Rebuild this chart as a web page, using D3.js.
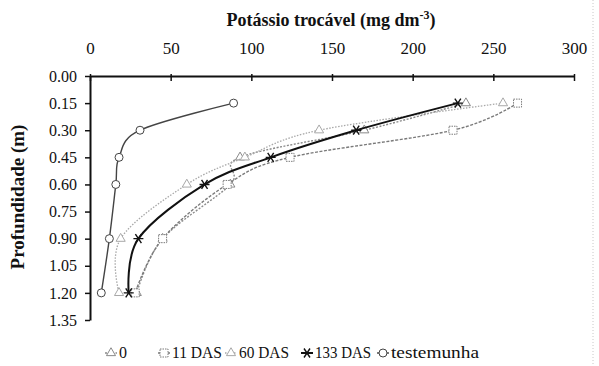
<!DOCTYPE html>
<html>
<head>
<meta charset="utf-8">
<script src="https://cdn.jsdelivr.net/npm/d3@7"></script>
<style>
  html, body { margin: 0; padding: 0; background: #fff; }
  svg, svg text, svg tspan { font-family: 'Times New Roman', 'Liberation Serif', serif !important; }
</style>
</head>
<body>
<div id="chart"></div>
<script>
// profundidades (m) e valores de K
const depths = [0.15, 0.30, 0.45, 0.60, 0.90, 1.20];
const serie0 = [233, 170, 93, 87, 45, 29];
const serie11 = [265, 225, 124, 85, 45, 28];
const serie60 = [256, 142, 96, 60, 19, 18];
const serie133 = [228, 165, 112, 71, 30, 24];
const testemunha = [89, 31, 18, 16, 12, 7];

const xTicks = [0, 50, 100, 150, 200, 250, 300];
const yTicks = [0, 0.15, 0.30, 0.45, 0.60, 0.75, 0.90, 1.05, 1.20, 1.35];
const seriesNames = ['0', '11 DAS', '60 DAS', '133 DAS', 'testemunha'];

const width = 599, height = 366;

const svg = d3.select('#chart')
    .append('svg')
    .attr('width', width)
    .attr('height', height);

const x = d3.scaleLinear().domain([0, 300]).range([90, 574]);
const y = d3.scaleLinear().domain([0, 1.35]).range([76, 320]);

// borda pontilhada à direita
svg.append('line')
    .attr('x1', 593).attr('x2', 593).attr('y1', 0).attr('y2', height)
    .attr('stroke', '#c8c8c8').attr('stroke-dasharray', '1,2');

// título do eixo x
const title = svg.append('text')
    .attr('x', 331).attr('y', 26)
    .attr('text-anchor', 'middle')
    .attr('font-size', 18).attr('font-weight', 'bold').attr('fill', '#111');
title.append('tspan').text('Potássio trocável  (mg dm');
title.append('tspan').attr('baseline-shift', 'super').attr('font-size', 12).text('-3');
title.append('tspan').text(')');

// título do eixo y
svg.append('text')
    .attr('transform', 'translate(24,197) rotate(-90)')
    .attr('text-anchor', 'middle')
    .attr('font-size', 19).attr('font-weight', 'bold').attr('fill', '#111')
    .text('Profundidade (m)');

// eixo x (topo)
const xAxis = svg.append('g').attr('transform', `translate(0,${y(0)})`)
    .call(d3.axisTop(x).tickValues(xTicks).tickSizeInner(-5).tickSizeOuter(0).tickPadding(22));
xAxis.select('.domain').attr('stroke', '#111').attr('stroke-width', 2);
xAxis.selectAll('.tick line').attr('stroke', '#111').attr('stroke-width', 1.5)
    .attr('y1', -2);
xAxis.selectAll('.tick text').attr('font-size', 17).attr('fill', '#111');

// eixo y
const yAxis = svg.append('g').attr('transform', `translate(${x(0)},0)`)
    .call(d3.axisLeft(y).tickValues(yTicks).tickSizeInner(5).tickSizeOuter(0)
        .tickFormat(d3.format('.2f')).tickPadding(8));
yAxis.select('.domain').attr('stroke', '#111').attr('stroke-width', 2);
yAxis.selectAll('.tick line').attr('stroke', '#111').attr('stroke-width', 1.5);
yAxis.selectAll('.tick text').attr('font-size', 16).attr('fill', '#111');

// estilos das séries
const styles = [
    { values: serie0, stroke: '#8a8a8a', width: 1.4, dash: '2,1.5', marker: 'triangle' },
    { values: serie11, stroke: '#7a7a7a', width: 1.4, dash: '3,1.5', marker: 'square' },
    { values: serie60, stroke: '#a8a8a8', width: 1.3, dash: '1.5,1.5', marker: 'triangle' },
    { values: serie133, stroke: '#111', width: 2, dash: null, marker: 'asterisk' },
    { values: testemunha, stroke: '#444', width: 1.4, dash: null, marker: 'circle' }
];

const line = d3.line()
    .x(d => x(d[0]))
    .y(d => y(d[1]))
    .curve(d3.curveCatmullRom.alpha(0));

function drawMarker(g, type, cx, cy, color) {
    const m = g.append('g').attr('transform', `translate(${cx},${cy})`)
        .attr('fill', 'none').attr('stroke', color).attr('stroke-width', 1);
    if (type === 'circle') {
        m.append('circle').attr('r', 4).attr('fill', '#fff');
    } else if (type === 'square') {
        m.append('rect').attr('x', -4).attr('y', -4).attr('width', 8).attr('height', 8)
            .attr('fill', '#fff').attr('stroke-dasharray', '1.5,1');
    } else if (type === 'triangle') {
        m.append('path').attr('d', d3.symbol(d3.symbolTriangle, 36)()).attr('fill', '#fff');
    } else if (type === 'asterisk') {
        m.append('path').attr('d', 'M-5,0H5M-3,-4.5L3,4.5M3,-4.5L-3,4.5')
            .attr('stroke-width', 1.4);
    }
}

const plot = svg.append('g');
styles.forEach(s => {
    const pts = depths.map((d, i) => [s.values[i], d]);
    plot.append('path')
        .attr('d', line(pts))
        .attr('fill', 'none')
        .attr('stroke', s.stroke)
        .attr('stroke-width', s.width)
        .attr('stroke-dasharray', s.dash);
    pts.forEach(p => drawMarker(plot, s.marker, x(p[0]), y(p[1]), s.stroke));
});

// legenda
const legendX = [111, 164, 231, 307, 383];
const legend = svg.append('g').attr('transform', 'translate(0,358)');
styles.forEach((s, i) => {
    const lx = legendX[i];
    legend.append('line')
        .attr('x1', lx - 6).attr('x2', lx + 6).attr('y1', -5).attr('y2', -5)
        .attr('stroke', s.stroke).attr('stroke-width', s.width)
        .attr('stroke-dasharray', s.dash);
    drawMarker(legend, s.marker, lx, -5, s.stroke);
    legend.append('text')
        .attr('x', lx + 8).attr('y', 0)
        .attr('font-size', 16).attr('fill', '#111')
        .attr('textLength', i === 0 ? null : [0, 50, 50, 56, 88][i])
        .attr('lengthAdjust', 'spacingAndGlyphs')
        .text(seriesNames[i]);
});
</script>
</body>
</html>
